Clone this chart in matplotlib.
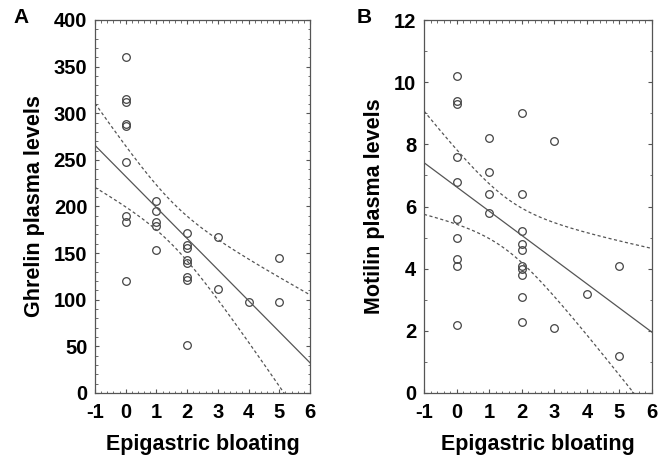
import numpy as np
import matplotlib

matplotlib.use("Agg")
import matplotlib.pyplot as plt
from matplotlib.ticker import MultipleLocator

plt.rcParams["font.family"] = ["Liberation Sans", "DejaVu Sans"]
plt.rcParams["font.weight"] = "bold"
plt.rcParams["axes.unicode_minus"] = False

# Panel A: ghrelin vs epigastric bloating
ghrelin_x = [0, 0, 0, 0, 0, 0, 0, 0, 0,
             1, 1, 1, 1, 1,
             2, 2, 2, 2, 2, 2, 2, 2,
             3, 3, 4, 5, 5]
ghrelin_y = [360, 315, 312, 289, 286, 248, 190, 183, 120,
             206, 195, 183, 179, 153,
             172, 159, 156, 143, 139, 124, 121, 52,
             167, 112, 98, 145, 98]

# Panel B: motilin vs epigastric bloating
motilin_x = [0, 0, 0, 0, 0, 0, 0, 0, 0, 0,
             1, 1, 1, 1,
             2, 2, 2, 2, 2, 2, 2, 2, 2, 2,
             3, 3, 4, 5, 5]
motilin_y = [10.2, 9.4, 9.3, 7.6, 6.8, 5.6, 5.0, 4.3, 4.1, 2.2,
             8.2, 7.1, 6.4, 5.8,
             9.0, 6.4, 5.2, 4.8, 4.6, 4.1, 4.0, 3.8, 3.1, 2.3,
             8.1, 2.1, 3.2, 4.1, 1.2]

T95 = 2.06  # two-sided 95% t quantile, ~25 dof
GRAY = "#444444"
LINE = "#555555"


def draw_panel(ax, xs, ys, ylim, ymajor, yminor, ylabel, letter, ylab_x, letter_x):
    x = np.asarray(xs, float)
    y = np.asarray(ys, float)
    slope, icpt = np.polyfit(x, y, 1)
    n = len(x)
    resid = y - (icpt + slope * x)
    s = np.sqrt(np.sum(resid ** 2) / (n - 2))
    grid = np.linspace(-1, 6, 200)
    fit = icpt + slope * grid
    half = T95 * s * np.sqrt(1 / n + (grid - x.mean()) ** 2 / np.sum((x - x.mean()) ** 2))

    ax.plot(x, y, "o", mfc="none", mec=GRAY, ms=5.5, mew=0.9)
    ax.plot(grid, fit, "-", color=LINE, lw=0.9)
    ax.plot(grid, fit + half, color=LINE, lw=0.9, ls=(0, (2.5, 2)))
    ax.plot(grid, fit - half, color=LINE, lw=0.9, ls=(0, (2.5, 2)))

    ax.set_xlim(-1, 6)
    ax.set_ylim(*ylim)
    ax.xaxis.set_major_locator(MultipleLocator(1))
    ax.xaxis.set_minor_locator(MultipleLocator(0.2))
    ax.yaxis.set_major_locator(MultipleLocator(ymajor))
    ax.yaxis.set_minor_locator(MultipleLocator(yminor))
    ax.tick_params(which="both", direction="in", top=True, right=True,
                   color=LINE, labelsize=14.5)
    ax.tick_params(axis="x", which="major", pad=7)
    ax.tick_params(axis="y", which="major", pad=5.5)
    ax.tick_params(which="major", length=3)
    ax.tick_params(which="minor", length=1.8)
    for sp in ax.spines.values():
        sp.set_color(LINE)
        sp.set_linewidth(0.9)
    for lab in ax.get_xticklabels() + ax.get_yticklabels():
        lab.set_fontweight("bold")
    ax.set_xlabel("Epigastric bloating", fontsize=15.5, fontweight="bold")
    ax.set_ylabel(ylabel, fontsize=15.5, fontweight="bold")
    ax.xaxis.set_label_coords(0.5, -0.11)
    ax.yaxis.set_label_coords(ylab_x, 0.5)
    ax.text(letter_x, 1.008, letter, transform=ax.transAxes, fontsize=15,
            fontweight="bold", va="center", ha="left")


fig = plt.figure(figsize=(6.68, 4.59), dpi=100)
ax1 = fig.add_axes([95 / 668, 1 - 393 / 459, 215 / 668, 373 / 459])
ax2 = fig.add_axes([424 / 668, 1 - 393 / 459, 228 / 668, 373 / 459])

draw_panel(ax1, ghrelin_x, ghrelin_y, (0, 400), 50, 10,
           "Ghrelin plasma levels", "A", -0.232, -0.381)
draw_panel(ax2, motilin_x, motilin_y, (0, 12), 2, 1,
           "Motilin plasma levels", "B", -0.173, -0.294)

fig.savefig("out.png", dpi=100)
